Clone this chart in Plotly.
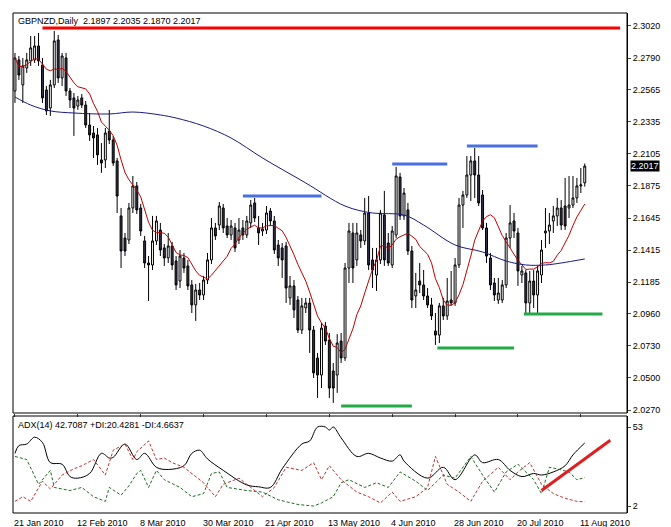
import pandas as pd
import plotly.graph_objects as go

# GBPNZD daily bars, 21 Jan 2010 .. 13 Aug 2010 (bar index 0..145)
opens = [2.2555, 2.2777, 2.2598, 2.2719, 2.2770, 2.2777, 2.2877, 2.2741, 2.2562, 2.2433,
         2.2598, 2.2920, 2.2648, 2.2791, 2.2555, 2.2505, 2.2447, 2.2505, 2.2454, 2.2311,
         2.2254, 2.2240, 2.2061, 2.2061, 2.2268, 2.2204, 2.2054, 2.1660, 2.1502, 2.1488,
         2.1717, 2.1875, 2.1717, 2.1481, 2.1323, 2.1309, 2.1481, 2.1559, 2.1431, 2.1359,
         2.1445, 2.1337, 2.1194, 2.1359, 2.1302, 2.1166, 2.1023, 2.1130, 2.1094, 2.1201,
         2.1345, 2.1574, 2.1595, 2.1717, 2.1588, 2.1524, 2.1574, 2.1488, 2.1574, 2.1524,
         2.1610, 2.1753, 2.1574, 2.1552, 2.1559, 2.1695, 2.1624, 2.1452, 2.1431, 2.1445,
         2.1073, 2.1159, 2.1058, 2.0843, 2.1001, 2.1037, 2.0843, 2.0643, 2.0521, 2.0872,
         2.0771, 2.0550, 2.0521, 2.0764, 2.0643, 2.1287, 2.1538, 2.1345, 2.1524, 2.1481,
         2.1681, 2.1345, 2.1237, 2.1345, 2.1667, 2.1466, 2.1309, 2.1524, 2.1939, 2.1660,
         2.1703, 2.1409, 2.1087, 2.1194, 2.1166, 2.1087, 2.1023, 2.0836, 2.0807, 2.1016,
         2.0944, 2.1058, 2.1037, 2.1309, 2.1738, 2.1810, 2.1953, 2.2054, 2.1953, 2.1810,
         2.1574, 2.1359, 2.1180, 2.1058, 2.1058, 2.1166, 2.1502, 2.1624, 2.1538, 2.1237,
         2.1252, 2.1037, 2.1194, 2.1094, 2.1237, 2.1538, 2.1552, 2.1624, 2.1660, 2.1717,
         2.1731, 2.1717, 2.1738, 2.1789, 2.1875, 2.1897]
highs = [2.2827, 2.2805, 2.2791, 2.2827, 2.2949, 2.2949, 2.2970, 2.2791, 2.2591, 2.2634,
         2.2984, 2.2956, 2.2827, 2.2827, 2.2576, 2.2540, 2.2519, 2.2533, 2.2483, 2.2397,
         2.2304, 2.2290, 2.2182, 2.2290, 2.2419, 2.2233, 2.2075, 2.1717, 2.1538, 2.1753,
         2.1946, 2.1903, 2.1746, 2.1517, 2.1373, 2.1660, 2.1660, 2.1610, 2.1459, 2.1538,
         2.1474, 2.1373, 2.1416, 2.1395, 2.1345, 2.1201, 2.1173, 2.1180, 2.1230, 2.1395,
         2.1645, 2.1610, 2.1760, 2.1746, 2.1645, 2.1631, 2.1610, 2.1645, 2.1631, 2.1660,
         2.1774, 2.1789, 2.1660, 2.1610, 2.1731, 2.1717, 2.1660, 2.1488, 2.1466, 2.1474,
         2.1230, 2.1201, 2.1087, 2.1073, 2.1073, 2.1073, 2.0872, 2.0679, 2.0894, 2.0901,
         2.0822, 2.0607, 2.0814, 2.0822, 2.1323, 2.1610, 2.1610, 2.1610, 2.1559, 2.1789,
         2.1803, 2.1431, 2.1431, 2.1703, 2.1839, 2.1538, 2.1588, 2.2011, 2.1968, 2.1860,
         2.1753, 2.1445, 2.1252, 2.1323, 2.1273, 2.1144, 2.1073, 2.0965, 2.1037, 2.1073,
         2.1216, 2.1266, 2.1359, 2.1789, 2.1839, 2.2089, 2.2089, 2.2147, 2.2089, 2.1846,
         2.1610, 2.1395, 2.1216, 2.1216, 2.1201, 2.1538, 2.1738, 2.1681, 2.1574, 2.1302,
         2.1273, 2.1266, 2.1273, 2.1302, 2.1488, 2.1717, 2.1681, 2.1731, 2.1789, 2.1774,
         2.1932, 2.1946, 2.1946, 2.1932, 2.2003, 2.2035]
lows = [2.2469, 2.2634, 2.2469, 2.2684, 2.2734, 2.2755, 2.2734, 2.2469, 2.2383, 2.2376,
        2.2576, 2.2612, 2.2591, 2.2519, 2.2433, 2.2233, 2.2419, 2.2433, 2.2290, 2.2197,
        2.2075, 2.2025, 2.1968, 2.2003, 2.2175, 2.2018, 2.1681, 2.1287, 2.1373, 2.1459,
        2.1681, 2.1674, 2.1517, 2.1287, 2.1051, 2.1273, 2.1452, 2.1373, 2.1302, 2.1323,
        2.1273, 2.1130, 2.1144, 2.1252, 2.1130, 2.0965, 2.0908, 2.1058, 2.1058, 2.1173,
        2.1316, 2.1488, 2.1559, 2.1538, 2.1502, 2.1488, 2.1402, 2.1459, 2.1488, 2.1502,
        2.1574, 2.1617, 2.1452, 2.1517, 2.1531, 2.1588, 2.1388, 2.1302, 2.1216, 2.1037,
        2.1023, 2.0929, 2.0822, 2.0814, 2.0965, 2.0679, 2.0500, 2.0357, 2.0428, 2.0736,
        2.0357, 2.0321, 2.0393, 2.0607, 2.0622, 2.1180, 2.1180, 2.1302, 2.1431, 2.1452,
        2.1273, 2.1144, 2.1123, 2.1316, 2.1302, 2.1302, 2.1287, 2.1502, 2.1631, 2.1631,
        2.1380, 2.1001, 2.1001, 2.1108, 2.1058, 2.1001, 2.0915, 2.0736, 2.0750, 2.0915,
        2.0915, 2.1016, 2.1016, 2.1287, 2.1574, 2.1789, 2.1767, 2.1789, 2.1731, 2.1559,
        2.1323, 2.1130, 2.1051, 2.1030, 2.1037, 2.1144, 2.1431, 2.1502, 2.1159, 2.1180,
        2.0965, 2.0965, 2.1001, 2.0965, 2.1180, 2.1431, 2.1459, 2.1538, 2.1588, 2.1559,
        2.1559, 2.1645, 2.1717, 2.1753, 2.1824, 2.1870]
closes = [2.2791, 2.2669, 2.2734, 2.2777, 2.2863, 2.2877, 2.2770, 2.2505, 2.2412, 2.2598,
          2.2913, 2.2648, 2.2805, 2.2555, 2.2490, 2.2433, 2.2490, 2.2454, 2.2311, 2.2240,
          2.2218, 2.2097, 2.2039, 2.2254, 2.2204, 2.2039, 2.1803, 2.1409, 2.1409, 2.1717,
          2.1875, 2.1703, 2.1552, 2.1323, 2.1309, 2.1481, 2.1624, 2.1416, 2.1359, 2.1445,
          2.1309, 2.1166, 2.1373, 2.1287, 2.1159, 2.1023, 2.1130, 2.1094, 2.1201, 2.1345,
          2.1574, 2.1517, 2.1731, 2.1574, 2.1524, 2.1588, 2.1431, 2.1559, 2.1524, 2.1624,
          2.1738, 2.1645, 2.1538, 2.1567, 2.1681, 2.1624, 2.1416, 2.1359, 2.1345, 2.1144,
          2.1159, 2.0987, 2.0843, 2.1016, 2.1037, 2.0843, 2.0536, 2.0521, 2.0857, 2.0764,
          2.0428, 2.0428, 2.0750, 2.0643, 2.1287, 2.1552, 2.1287, 2.1538, 2.1481, 2.1681,
          2.1309, 2.1273, 2.1345, 2.1681, 2.1345, 2.1323, 2.1552, 2.1946, 2.1660, 2.1824,
          2.1409, 2.1058, 2.1130, 2.1166, 2.1087, 2.1023, 2.0944, 2.0807, 2.1016, 2.0944,
          2.1051, 2.1037, 2.1309, 2.1738, 2.1810, 2.1953, 2.2054, 2.1953, 2.1753, 2.1574,
          2.1373, 2.1166, 2.1094, 2.1108, 2.1166, 2.1502, 2.1610, 2.1552, 2.1266, 2.1266,
          2.1037, 2.1194, 2.1094, 2.1266, 2.1416, 2.1552, 2.1595, 2.1660, 2.1717, 2.1595,
          2.1588, 2.1738, 2.1789, 2.1875, 2.1882, 2.2017]

# slow MA (blue)
ma_slow_idx = [0, 4, 9, 15, 24, 30, 37, 41, 48, 55, 63, 74, 84, 91, 99, 104, 112, 119, 125, 130, 135, 139, 145]
ma_slow = [2.2512, 2.2454, 2.2412, 2.2397, 2.2390, 2.2404, 2.2383, 2.2361, 2.2304, 2.2218, 2.2075, 2.1896,
           2.1731, 2.1681, 2.1667, 2.1595, 2.1452, 2.1402, 2.1337, 2.1309, 2.1309, 2.1323, 2.1352]

# ADX(14) pane
adx_idx = [0, 1, 3, 5, 7, 9, 12, 14, 16, 19, 22, 24, 25, 28, 31, 33, 36, 39, 43, 45, 47, 49, 53, 59, 62, 65,
           68, 73, 75, 77, 79, 80, 81, 83, 87, 90, 93, 96, 98, 99, 105, 109, 112, 117, 119, 123, 126, 129,
           132, 134, 137, 140, 142, 145]
adx = [36, 41, 42, 46.4, 43, 30, 29, 21, 20, 23, 36, 33, 33.4, 42, 32, 36, 27, 25.6, 28, 36, 38, 32.4, 25,
       15.6, 14.4, 14, 26, 42, 44, 53, 53, 51, 53, 46, 34, 36, 33, 31, 35, 31, 20, 27, 19, 35, 30, 32, 25,
       21, 23, 22, 24, 28, 35, 42.7]
pdi_idx = [0, 3, 6, 9, 10, 14, 17, 20, 23, 24, 27, 29, 31, 32, 34, 36, 38, 42, 45, 48, 50, 52, 54, 59, 63,
           67, 72, 76, 78, 81, 83, 85, 89, 92, 95, 98, 102, 105, 109, 112, 116, 119, 122, 125, 128, 132,
           134, 136, 138, 141, 143, 145]
pdi = [34, 32, 16, 25, 14, 12, 14, 8, 5, 14, 9, 15, 23, 25, 14, 25, 19, 14, 8, 10, 23, 24, 14, 12, 11, 6,
       3, 2, 4, 8, 17, 19, 14, 17, 14, 24, 18, 12, 22, 20, 34, 22, 11, 24, 29, 19, 10, 27, 26, 24, 19, 20.4]
mdi_idx = [0, 2, 4, 7, 9, 12, 15, 17, 20, 23, 25, 28, 30, 31, 34, 36, 38, 40, 43, 45, 48, 51, 53, 57, 60,
           63, 66, 69, 73, 76, 78, 80, 83, 87, 90, 93, 96, 98, 102, 105, 107, 110, 113, 116, 119, 123, 126,
           128, 131, 134, 137, 140, 143, 145]
mdi = [5, 8, 5, 18, 13, 22, 26, 28, 32, 22, 38, 42, 32, 37, 44, 32, 33, 30, 27, 23, 17, 8, 16, 20, 14, 8,
       14, 27, 25, 30, 19, 28, 19, 11, 8, 4, 11, 5, 8, 14, 34, 16, 11, 5, 18, 27, 19, 24, 30, 16, 10, 7, 5,
       4.7]

dates = pd.bdate_range('2010-01-21', periods=len(closes))
tick_idx = list(range(0, len(closes), 16))
tick_text = [d.strftime('%-d %b %Y') for d in dates[tick_idx]]
price_ticks = [2.3020, 2.2790, 2.2565, 2.2335, 2.2105, 2.1875, 2.1645, 2.1415, 2.1185, 2.0960, 2.0730, 2.0500, 2.0270]

# drawn levels: (start bar, end bar, price, colour)
levels = [(7, 154, 2.3006, 'red'), (58, 78, 2.1803, '#4a6fe0'), (96, 110, 2.2032, '#4a6fe0'),
          (115, 133, 2.2161, '#4a6fe0'), (83, 101, 2.0299, '#22aa44'), (107.5, 127, 2.0715, '#22aa44'),
          (129.5, 149.5, 2.0958, '#22aa44')]

idx = list(range(len(closes)))
ma_fast = pd.Series(closes).rolling(10, min_periods=1).mean()

fig = go.Figure()
fig.add_trace(go.Candlestick(x=idx, open=opens, high=highs, low=lows, close=closes,
                             increasing=dict(fillcolor='white', line=dict(color='black', width=1)),
                             decreasing=dict(fillcolor='#33334d', line=dict(color='black', width=1)),
                             whiskerwidth=0, xaxis='x', yaxis='y'))
fig.add_trace(go.Scatter(x=idx, y=ma_fast, mode='lines', line=dict(color='#c00000', width=1)))
fig.add_trace(go.Scatter(x=ma_slow_idx, y=ma_slow, mode='lines', line=dict(color='#1a1a80', width=1, shape='spline')))
for x0, x1, p, c in levels:
    fig.add_trace(go.Scatter(x=[x0, x1], y=[p, p], mode='lines', line=dict(color=c, width=3)))

fig.add_trace(go.Scatter(x=adx_idx, y=adx, mode='lines', line=dict(color='black', width=1, shape='spline'), yaxis='y2'))
fig.add_trace(go.Scatter(x=pdi_idx, y=pdi, mode='lines', line=dict(color='#1f6b1f', width=1, dash='3px,2px'), yaxis='y2'))
fig.add_trace(go.Scatter(x=mdi_idx, y=mdi, mode='lines', line=dict(color='#c03030', width=1, dash='3px,2px'), yaxis='y2'))
fig.add_trace(go.Scatter(x=[134, 151.5], y=[12, 44.5], mode='lines', line=dict(color='#e02020', width=3), yaxis='y2'))

font = dict(family='Liberation Sans, Arial', size=9, color='black')
annotations = [dict(x=i, y=0, xref='x', yref='paper', text=t, showarrow=False, xanchor='left', yanchor='top',
                    xshift=-3, yshift=-3, font=font) for i, t in zip(tick_idx, tick_text)]
annotations += [
    dict(x=0.005, y=0.998, xref='paper', yref='paper', text='GBPNZD,Daily  2.1897 2.2035 2.1870 2.2017',
         showarrow=False, xanchor='left', yanchor='top', font=font),
    dict(x=0.005, y=0.19, xref='paper', yref='paper', text='ADX(14) 42.7087 +DI:20.4281 -DI:4.6637',
         showarrow=False, xanchor='left', yanchor='top', font=font),
    dict(x=1, y=closes[-1], xref='paper', yref='y', text='2.2017', showarrow=False, xanchor='left',
         xshift=3, bgcolor='black', borderpad=0, font=dict(family='Liberation Sans, Arial', size=9, color='white')),
]

fig.update_layout(
    width=671, height=527, margin=dict(l=5, r=52, t=5, b=22, autoexpand=False),
    paper_bgcolor='white', plot_bgcolor='white', showlegend=False, font=font,
    xaxis=dict(range=[-0.5, 155.75], showticklabels=False, showgrid=False, zeroline=False,
               rangeslider=dict(visible=False), ticks='outside', tickvals=tick_idx, ticklen=3),
    yaxis=dict(domain=[0.2, 1], range=[2.0249, 2.3113], side='right', tickvals=price_ticks,
               ticktext=[f'{v:.4f}' for v in price_ticks], ticks='outside', ticklen=3,
               showgrid=False, zeroline=False, showline=True, linecolor='black'),
    yaxis2=dict(domain=[0, 0.194], range=[-2.5, 60.1], side='right', tickvals=[2, 53], ticks='outside',
                ticklen=3, showgrid=False, zeroline=False, showline=True, linecolor='black', anchor='x'),
    annotations=annotations,
    shapes=[dict(type='rect', xref='paper', yref='paper', x0=0, x1=1, y0=0.2, y1=1, line=dict(color='black', width=1)),
            dict(type='rect', xref='paper', yref='paper', x0=0, x1=1, y0=0, y1=0.194, line=dict(color='black', width=1))],
)
fig.write_html('out.html')
